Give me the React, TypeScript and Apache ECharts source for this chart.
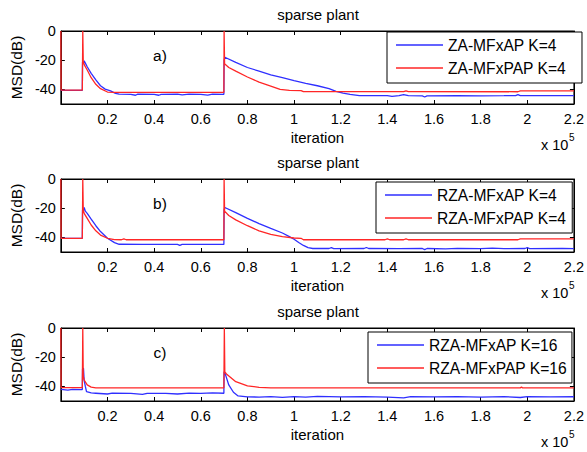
import React, { useEffect, useRef } from "react";
import * as echarts from "echarts";

// x in units of 1e5 iterations, y in dB
const aBlue: [number, number][] = [
  [0, -40.6], [0.092, -40.6], [0.093, -21], [0.097, -22.5], [0.1, -20.5], [0.105, -22], [0.113, -24.5],
  [0.13, -29], [0.15, -33.5], [0.17, -37.5], [0.19, -39.8], [0.213, -41], [0.234, -42.7], [0.25, -43.3],
  [0.3, -43.4], [0.32, -44], [0.33, -43.3], [0.4, -43.4], [0.42, -44], [0.43, -43.4], [0.5, -43.3],
  [0.52, -43.8], [0.55, -43.3], [0.6, -43.4], [0.63, -43.9], [0.65, -43.3], [0.699, -43.4], [0.7, -20],
  [0.703, -18], [0.75, -21.5], [0.8, -25], [0.85, -27.5], [0.9, -30], [0.95, -32], [1.0, -34],
  [1.05, -35.8], [1.1, -37.5], [1.15, -39.5], [1.18, -41.3], [1.21, -42.5], [1.24, -43.4], [1.28, -44.3],
  [1.4, -44.3], [1.42, -44.8], [1.45, -44.3], [1.47, -43.6], [1.49, -44.3], [1.55, -44.5], [1.56, -45.2],
  [1.57, -44.4], [1.7, -44.3], [1.8, -44.4], [1.9, -44.3], [1.95, -44.2], [1.96, -43.6], [1.97, -44.3],
  [2.1, -44.3], [2.2, -44.3],
];
const aRed: [number, number][] = [
  [0, 0], [0.001, -40.5], [0.092, -40.5], [0.093, -21], [0.094, 0], [0.096, -21], [0.1, -23],
  [0.113, -26.7], [0.13, -32], [0.15, -36.5], [0.17, -39.5], [0.2, -41.8], [0.23, -42], [0.4, -42],
  [0.699, -42], [0.7, 0], [0.702, -22.5], [0.72, -25], [0.75, -27.5], [0.8, -31.5], [0.85, -35],
  [0.9, -37.7], [0.94, -40], [0.98, -40.6], [1.03, -40.8], [1.04, -41.5], [1.2, -41.5], [1.47, -41.5],
  [1.48, -41], [1.49, -41.5], [1.96, -41.6], [1.97, -41], [2.2, -41],
];
const bBlue: [number, number][] = [
  [0, -40.6], [0.092, -40.6], [0.093, -21], [0.097, -22], [0.1, -19.5], [0.105, -22], [0.113, -23.5],
  [0.13, -27.5], [0.15, -32], [0.17, -36], [0.2, -40.6], [0.23, -43.6], [0.25, -44.7], [0.35, -44.8],
  [0.45, -44.8], [0.5, -44.8], [0.51, -45.5], [0.52, -44.8], [0.699, -44.8], [0.7, -21], [0.703, -19.5],
  [0.75, -23], [0.8, -27], [0.85, -30.5], [0.9, -33.8], [0.95, -37], [0.98, -39.5], [1.0, -41.3],
  [1.02, -43.5], [1.04, -45.5], [1.06, -47], [1.08, -47.6], [1.15, -47.6], [1.16, -47], [1.17, -47.7],
  [1.3, -47.6], [1.31, -46.9], [1.32, -47.6], [1.45, -47.7], [1.55, -47.6], [1.56, -48.4], [1.57, -47.6],
  [1.65, -47.8], [1.7, -47.5], [1.8, -47.7], [1.85, -47.3], [1.9, -47.7], [1.99, -47.6], [2.0, -47],
  [2.01, -47.7], [2.15, -47.6], [2.2, -47.7],
];
const bRed: [number, number][] = [
  [0, 0], [0.001, -40.6], [0.092, -40.6], [0.093, -21], [0.094, 0], [0.096, -21], [0.1, -23.5],
  [0.113, -27], [0.13, -31.5], [0.15, -35.5], [0.17, -38.4], [0.2, -40.6], [0.23, -41.5], [0.26, -41.6],
  [0.27, -41], [0.28, -41.6], [0.699, -41.6], [0.7, 0], [0.702, -22], [0.72, -25], [0.75, -28],
  [0.8, -32], [0.85, -35.5], [0.9, -38], [0.95, -39.5], [1.0, -40.4], [1.03, -40.6], [1.04, -41.6],
  [1.39, -41.6], [1.4, -41], [1.41, -41.6], [1.47, -41.6], [1.48, -41], [1.49, -41.6], [1.96, -41.6],
  [1.97, -41], [2.2, -41],
];
const cBlue: [number, number][] = [
  [0, -42], [0.03, -42.5], [0.05, -42], [0.092, -42.2], [0.093, -28], [0.097, -27.6], [0.1, -36],
  [0.105, -40], [0.11, -43.6], [0.13, -44.5], [0.15, -44.7], [0.2, -45.2], [0.22, -44.6], [0.3, -44.8],
  [0.35, -45.5], [0.37, -44.8], [0.45, -44.8], [0.5, -45.2], [0.55, -44.6], [0.6, -44.8], [0.65, -44.5],
  [0.699, -44.7], [0.7, -30], [0.703, -30.5], [0.71, -34], [0.72, -39], [0.74, -44], [0.76, -46.5],
  [0.8, -47.2], [0.85, -47.3], [0.9, -47], [0.95, -47.5], [1.0, -47], [1.05, -47.3], [1.1, -46.8],
  [1.2, -47.2], [1.3, -47], [1.4, -47.3], [1.47, -47.8], [1.5, -47], [1.6, -47.2], [1.7, -47],
  [1.8, -47.3], [1.9, -47], [1.97, -47.6], [2.0, -47], [2.1, -47.2], [2.2, -47.1],
];
const cRed: [number, number][] = [
  [0, 0], [0.001, -40.8], [0.092, -40.8], [0.093, -21], [0.094, 0], [0.096, -33], [0.1, -35.6],
  [0.113, -39], [0.13, -40.5], [0.15, -41], [0.699, -41], [0.7, -21], [0.701, 0], [0.703, -30],
  [0.71, -31.5], [0.75, -36.8], [0.8, -39.7], [0.85, -40.6], [0.9, -41], [1.97, -41], [1.975, -40.5],
  [1.98, -41], [2.2, -41],
];

const seriesNames = [
  ["ZA-MFxAP K=4", "ZA-MFxPAP K=4"],
  ["RZA-MFxAP K=4", "RZA-MFxPAP K=4"],
  ["RZA-MFxAP K=16", "RZA-MFxPAP K=16"],
];
const panelData = [
  [aBlue, aRed],
  [bBlue, bRed],
  [cBlue, cRed],
];
const panelLabels = ["a)", "b)", "c)"];
const chartTitle = "sparse plant";
const xLabel = "iteration";
const yLabel = "MSD(dB)";
const yTicks = [-40, -20, 0];

const FONT = "'Liberation Sans', Arial, sans-serif";
const BLUE = "#2f2fff";
const RED = "#ff2626";

export default function App() {
  const ref = useRef<HTMLDivElement>(null);
  useEffect(() => {
    if (!ref.current) return;
    const chart = echarts.init(ref.current, null, { renderer: "svg" });
    const gridTops = [31, 179, 328];
    const gridH = 73;
    const gridLeft = 59;
    const gridRight = 577;
    const cx = (gridLeft + gridRight) / 2;
    const legendPos = [
      { left: 387, top: 32, padRight: 16 },
      { left: 376, top: 182, padRight: 6 },
      { left: 368, top: 332, padRight: 5 },
    ];

    const grid: any[] = [];
    const xAxis: any[] = [];
    const yAxis: any[] = [];
    const series: any[] = [];
    const legend: any[] = [];
    const graphic: any[] = [];

    const axisCommon = {
      axisLine: { show: true, onZero: false, lineStyle: { color: "#000", width: 1 } },
      axisTick: { show: true, inside: true, length: 4, lineStyle: { color: "#000" } },
      splitLine: { show: false },
    };

    gridTops.forEach((top, i) => {
      grid.push({
        left: gridLeft,
        width: gridRight - gridLeft,
        top,
        height: gridH,
        show: true,
        borderColor: "#000",
        borderWidth: 1,
        backgroundColor: "#fff",
      });
      xAxis.push({
        type: "value",
        gridIndex: i,
        min: 0,
        max: 2.2,
        interval: 0.2,
        position: "bottom",
        ...axisCommon,
        axisLabel: {
          show: true,
          margin: 7,
          color: "#000",
          fontSize: 14.5,
          fontFamily: FONT,
          formatter: (v: number) => (Math.abs(v) < 1e-9 ? "" : String(+v.toFixed(1))),
        },
        name: xLabel,
        nameLocation: "middle",
        nameGap: 26,
        nameTextStyle: { color: "#000", fontSize: 15, fontFamily: FONT },
      });
      xAxis.push({
        type: "value",
        gridIndex: i,
        min: 0,
        max: 2.2,
        interval: 0.2,
        position: "top",
        ...axisCommon,
        axisLabel: { show: false },
      });
      yAxis.push({
        type: "value",
        gridIndex: i,
        min: -50,
        max: 0,
        position: "left",
        ...axisCommon,
        axisTick: { ...axisCommon.axisTick, customValues: yTicks },
        axisLabel: {
          show: true,
          margin: 5,
          color: "#000",
          fontSize: 14.5,
          fontFamily: FONT,
          customValues: yTicks,
        },
        name: yLabel,
        nameLocation: "middle",
        nameGap: 36,
        nameTextStyle: { color: "#000", fontSize: 15.5, fontFamily: FONT },
      });
      yAxis.push({
        type: "value",
        gridIndex: i,
        min: -50,
        max: 0,
        position: "right",
        ...axisCommon,
        axisTick: { ...axisCommon.axisTick, customValues: yTicks },
        axisLabel: { show: false },
      });
      const [blue, red] = panelData[i];
      const [nb, nr] = seriesNames[i];
      series.push({
        type: "line",
        name: nb,
        xAxisIndex: i * 2,
        yAxisIndex: i * 2,
        data: blue,
        symbol: "none",
        color: BLUE,
        lineStyle: { color: BLUE, width: 1.3 },
        clip: true,
      });
      series.push({
        type: "line",
        name: nr,
        xAxisIndex: i * 2,
        yAxisIndex: i * 2,
        data: red,
        symbol: "none",
        color: RED,
        lineStyle: { color: RED, width: 1.3 },
        clip: true,
      });
      legend.push({
        data: [nb, nr],
        orient: "vertical",
        left: legendPos[i].left,
        top: legendPos[i].top,
        icon: "rect",
        itemWidth: 47,
        itemHeight: 1.6,
        itemGap: 7,
        padding: [5, legendPos[i].padRight, 7, 9],
        borderColor: "#000",
        borderWidth: 1,
        borderRadius: 0,
        backgroundColor: "#fff",
        selectedMode: false,
        textStyle: { color: "#000", fontSize: 15.6, fontFamily: FONT },
      });
      graphic.push({
        type: "text",
        x: cx,
        y: top - 17,
        style: {
          text: chartTitle,
          align: "center",
          verticalAlign: "middle",
          fontSize: 15,
          fontFamily: FONT,
          fill: "#000",
        },
      });
      graphic.push({
        type: "text",
        x: 160,
        y: top + 24,
        style: {
          text: panelLabels[i],
          align: "center",
          verticalAlign: "middle",
          fontSize: 15.5,
          fontFamily: FONT,
          fill: "#000",
        },
      });
      graphic.push({
        type: "text",
        x: 541,
        y: top + gridH + 41,
        style: {
          text: "x 10",
          align: "left",
          verticalAlign: "middle",
          fontSize: 14.5,
          fontFamily: FONT,
          fill: "#000",
        },
      });
      graphic.push({
        type: "text",
        x: 569,
        y: top + gridH + 33,
        style: {
          text: "5",
          align: "left",
          verticalAlign: "middle",
          fontSize: 10,
          fontFamily: FONT,
          fill: "#000",
        },
      });
    });

    chart.setOption({
      animation: false,
      backgroundColor: "#fff",
      textStyle: { fontFamily: FONT },
      grid,
      xAxis,
      yAxis,
      series,
      legend,
      graphic,
    });
    return () => chart.dispose();
  }, []);
  return (
    <div
      ref={ref}
      style={{ position: "fixed", left: 0, top: 0, width: 587, height: 452, background: "#fff" }}
    />
  );
}
